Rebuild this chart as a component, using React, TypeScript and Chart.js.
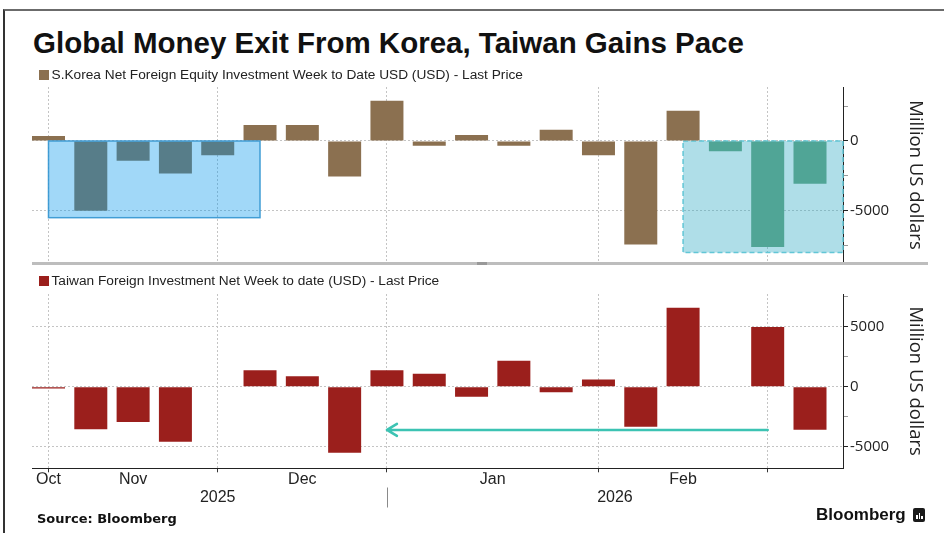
import React, { useEffect, useRef } from 'react';
import { Chart, registerables } from 'chart.js';

Chart.register(...registerables);

// ---------- data ----------
const weeks = [
  '2025-10-31', '2025-11-07', '2025-11-14', '2025-11-21', '2025-11-28',
  '2025-12-05', '2025-12-12', '2025-12-19', '2025-12-26', '2026-01-02',
  '2026-01-09', '2026-01-16', '2026-01-23', '2026-01-30', '2026-02-06',
  '2026-02-13', '2026-02-20', '2026-02-27', '2026-03-06',
];
const koreaValues = [360, -5000, -1420, -2330, -1030, 1150, 1150, -2540, 2880, -340, 430, -340, 810, -1030, -7430, 2160, -740, -7600, -3070];
const taiwanValues = [-140, -3550, -2940, -4580, -50, 1370, 870, -5500, 1370, 1080, -830, 2170, -470, 610, -3330, 6580, null, 4970, -3580];
const koreaTealWeeks = [16, 17, 18];

const gridWeeks = [0, 4, 8, 13, 17];
const monthLabels = ['Oct', 'Nov', 'Dec', 'Jan', 'Feb'];
const monthPositions = [0, 2, 6, 10.5, 15];
const yearLabels = ['2025', '2026'];
const yearPositions = [4, 13.39];
const yearBoundary = 8;
const X_MIN = -0.39;
const X_MAX = 18.78;

const koreaTicks = [-7500, -5000, -2500, 0, 2500];
const koreaRange = [-8750, 3870];
const taiwanTicks = [-5000, -2500, 0, 2500, 5000, 7500];
const taiwanRange = [-6800, 7725];

const koreaBoxes = [
  { from: 15, to: null, top: 0, bottom: -8000, layer: 'before', fill: 'rgba(55,172,197,0.40)', stroke: '#62c6d6', dash: [5, 3] },
  { from: 0, to: 5, top: 0, bottom: -5500, layer: 'after', fill: 'rgba(0,150,235,0.37)', stroke: 'rgba(50,150,210,0.9)', dash: [] },
];
const taiwanArrow = { from: 17, to: 8, y: -3600, color: '#3cc3b3' };

const KOREA_COLOR = '#8b7050';
const KOREA_TEAL = '#50a596';
const TAIWAN_COLOR = '#9b1f1c';

const SANS = '"Liberation Sans", Arial, sans-serif';
const AXIS_FONT = '"Open Sans", "Liberation Sans", sans-serif';

// ---------- helpers ----------
function makeOverlayPlugin(boxes: any[], arrow: any, separatorAt: number | null) {
  const drawBoxes = (chart: any, layer: string) => {
    const xs = chart.scales.x;
    const ys = chart.scales.y;
    const area = chart.chartArea;
    const ctx = chart.ctx;
    for (const b of boxes) {
      if (b.layer !== layer) continue;
      const x0 = xs.getPixelForValue(b.from);
      const x1 = b.to == null ? area.right : xs.getPixelForValue(b.to);
      const y0 = ys.getPixelForValue(b.top);
      const y1 = ys.getPixelForValue(b.bottom);
      ctx.save();
      ctx.fillStyle = b.fill;
      ctx.fillRect(x0, y0, x1 - x0, y1 - y0);
      ctx.setLineDash(b.dash);
      ctx.strokeStyle = b.stroke;
      ctx.lineWidth = 1.5;
      ctx.strokeRect(x0, y0, x1 - x0, y1 - y0);
      ctx.restore();
    }
  };
  return {
    id: 'overlays',
    beforeDatasetsDraw(chart: any) {
      drawBoxes(chart, 'before');
    },
    afterDatasetsDraw(chart: any) {
      drawBoxes(chart, 'after');
      const ctx = chart.ctx;
      if (arrow) {
        const xs = chart.scales.x;
        const ys = chart.scales.y;
        const y = ys.getPixelForValue(arrow.y);
        const xa = xs.getPixelForValue(arrow.from);
        const xb = xs.getPixelForValue(arrow.to);
        ctx.save();
        ctx.strokeStyle = arrow.color;
        ctx.lineWidth = 2.5;
        ctx.lineCap = 'round';
        ctx.lineJoin = 'round';
        ctx.beginPath();
        ctx.moveTo(xa, y);
        ctx.lineTo(xb, y);
        ctx.moveTo(xb + 10, y - 6);
        ctx.lineTo(xb, y);
        ctx.lineTo(xb + 10, y + 6);
        ctx.stroke();
        ctx.restore();
      }
      if (separatorAt != null && chart.scales.xYear) {
        const ys = chart.scales.xYear;
        const x = Math.round(ys.getPixelForValue(separatorAt)) + 0.5;
        ctx.save();
        ctx.strokeStyle = '#8a8a8a';
        ctx.lineWidth = 1;
        ctx.beginPath();
        ctx.moveTo(x, ys.top);
        ctx.lineTo(x, ys.bottom);
        ctx.stroke();
        ctx.restore();
      }
    },
  };
}

function yAxis(ticks: number[], range: number[]) {
  return {
    type: 'linear',
    position: 'right',
    min: range[0],
    max: range[1],
    afterBuildTicks: (s: any) => {
      s.ticks = ticks.map((v) => ({ value: v }));
    },
    afterFit: (s: any) => {
      s.width = 101;
    },
    ticks: {
      autoSkip: false,
      padding: 2,
      color: '#222',
      font: { family: AXIS_FONT, size: 15 },
      callback: (v: number) => (v % 5000 === 0 ? String(v) : ''),
    },
    grid: {
      color: (c: any) => (c.tick && c.tick.value % 5000 === 0 ? '#c4c4c4' : 'rgba(0,0,0,0)'),
      tickColor: (c: any) => (c.tick && c.tick.value % 5000 === 0 ? '#222' : '#999'),
      tickLength: 5,
      lineWidth: 1,
    },
    border: { display: true, color: '#222', width: 1, dash: [2, 2] },
    title: {
      display: true,
      text: 'Million US dollars',
      color: '#222',
      font: { family: AXIS_FONT, size: 18.5 },
      padding: { top: 18, bottom: 0 },
    },
  };
}

function xGrid(showAxis: boolean) {
  return {
    type: 'linear',
    position: 'bottom',
    weight: 0,
    offset: false,
    min: X_MIN,
    max: X_MAX,
    afterBuildTicks: (s: any) => {
      s.ticks = gridWeeks.map((v) => ({ value: v }));
    },
    ticks: { display: false },
    grid: {
      offset: false,
      color: '#c4c4c4',
      lineWidth: 1,
      drawTicks: showAxis,
      tickLength: 4,
      tickColor: '#333',
    },
    border: { display: showAxis, color: '#222', width: 1, dash: [2, 2] },
  };
}

function barChartConfig(values: (number | null)[], colors: string[] | string, label: string, scales: any, plugin: any) {
  return {
    type: 'bar',
    data: {
      datasets: [
        {
          label,
          data: values.map((v, i) => ({ x: i, y: v })),
          backgroundColor: colors,
          borderWidth: 0,
          categoryPercentage: 1,
          barPercentage: 0.78,
        },
      ],
    },
    options: {
      animation: false,
      responsive: false,
      maintainAspectRatio: false,
      layout: { padding: { left: 32, right: 0, top: 14, bottom: 14 } },
      plugins: { legend: { display: false }, tooltip: { enabled: false }, title: { display: false } },
      scales,
    },
    plugins: [plugin],
  };
}

function KoreaChart() {
  const ref = useRef<HTMLCanvasElement | null>(null);
  useEffect(() => {
    if (!ref.current) return;
    const colors = koreaValues.map((_, i) => (koreaTealWeeks.includes(i) ? KOREA_TEAL : KOREA_COLOR));
    const cfg: any = barChartConfig(
      koreaValues,
      colors,
      'S.Korea Net Foreign Equity Investment Week to Date USD (USD) - Last Price',
      { x: xGrid(false), y: yAxis(koreaTicks, koreaRange) },
      makeOverlayPlugin(koreaBoxes, null, null)
    );
    const chart = new Chart(ref.current, cfg);
    return () => chart.destroy();
  }, []);
  return <canvas ref={ref} width={944} height={204} style={{ position: 'absolute', left: 0, top: 73 }} />;
}

function TaiwanChart() {
  const ref = useRef<HTMLCanvasElement | null>(null);
  useEffect(() => {
    if (!ref.current) return;
    const scales = {
      x: xGrid(true),
      xMonth: {
        type: 'linear',
        position: 'bottom',
        weight: 1,
        offset: false,
        min: X_MIN,
        max: X_MAX,
        afterBuildTicks: (s: any) => {
          s.ticks = monthPositions.map((v) => ({ value: v }));
        },
        grid: { display: false, drawTicks: false, offset: false },
        border: { display: false },
        ticks: {
          autoSkip: false,
          maxRotation: 0,
          padding: -2,
          color: '#222',
          font: { family: SANS, size: 16 },
          callback: (_v: number, i: number) => monthLabels[i],
        },
      },
      xYear: {
        type: 'linear',
        position: 'bottom',
        weight: 2,
        offset: false,
        min: X_MIN,
        max: X_MAX,
        afterBuildTicks: (s: any) => {
          s.ticks = yearPositions.map((v) => ({ value: v }));
        },
        grid: { display: false, drawTicks: false, offset: false },
        border: { display: false },
        ticks: {
          autoSkip: false,
          maxRotation: 0,
          padding: 0.4,
          color: '#222',
          font: { family: SANS, size: 16 },
          callback: (_v: number, i: number) => yearLabels[i],
        },
      },
      y: yAxis(taiwanTicks, taiwanRange),
    };
    const cfg: any = barChartConfig(
      taiwanValues,
      TAIWAN_COLOR,
      'Taiwan Foreign Investment Net Week to date (USD) - Last Price',
      scales,
      makeOverlayPlugin([], taiwanArrow, yearBoundary)
    );
    cfg.options.layout.padding.bottom = 25.5;
    const chart = new Chart(ref.current, cfg);
    return () => chart.destroy();
  }, []);
  return <canvas ref={ref} width={944} height={253} style={{ position: 'absolute', left: 0, top: 280 }} />;
}

function LegendItem({ color, text, top }: { color: string; text: string; top: number }) {
  return (
    <>
      <div style={{ position: 'absolute', left: 39, top: top + 3, width: 10, height: 10, background: color }} />
      <div
        style={{
          position: 'absolute',
          left: 51.5,
          top,
          fontFamily: SANS,
          fontSize: 13.7,
          lineHeight: '16px',
          color: '#222',
          whiteSpace: 'nowrap',
          zIndex: 2,
        }}
      >
        {text}
      </div>
    </>
  );
}

export default function App() {
  return (
    <div
      style={{
        position: 'absolute',
        left: 0,
        top: 0,
        width: 944,
        height: 533,
        background: '#fff',
        overflow: 'hidden',
      }}
    >
      <div
        style={{
          position: 'absolute',
          left: 3,
          top: 9,
          width: 960,
          height: 560,
          borderTop: '2px solid #6b6b6b',
          borderLeft: '2px solid #333',
          boxSizing: 'border-box',
        }}
      />
      <div
        style={{
          position: 'absolute',
          left: 33,
          top: 27.6,
          fontFamily: SANS,
          fontWeight: 'bold',
          fontSize: 29.5,
          lineHeight: '30px',
          color: '#111',
          whiteSpace: 'nowrap',
        }}
      >
        Global Money Exit From Korea, Taiwan Gains Pace
      </div>
      <KoreaChart />
      <TaiwanChart />
      <LegendItem
        color={KOREA_COLOR}
        top={67}
        text="S.Korea Net Foreign Equity Investment Week to Date USD (USD) - Last Price"
      />
      <LegendItem
        color={TAIWAN_COLOR}
        top={273}
        text="Taiwan Foreign Investment Net Week to date (USD) - Last Price"
      />
      <div style={{ position: 'absolute', left: 32, top: 262, width: 896, height: 3, background: '#bdbdbd' }} />
      <div style={{ position: 'absolute', left: 477, top: 262, width: 10, height: 3, background: '#999' }} />
      <div
        style={{
          position: 'absolute',
          left: 37,
          top: 512,
          fontFamily: '"DejaVu Sans", sans-serif',
          fontWeight: 'bold',
          fontSize: 13,
          lineHeight: '13px',
          color: '#111',
          whiteSpace: 'nowrap',
        }}
      >
        Source: Bloomberg
      </div>
      <div
        style={{
          position: 'absolute',
          left: 816,
          top: 506,
          fontFamily: SANS,
          fontWeight: 'bold',
          fontSize: 17,
          lineHeight: '17px',
          color: '#111',
          whiteSpace: 'nowrap',
        }}
      >
        Bloomberg
      </div>
      <div
        style={{
          position: 'absolute',
          left: 913,
          top: 508,
          width: 12,
          height: 14,
          background: '#1a1a1a',
          borderRadius: 2,
        }}
      >
        <div style={{ position: 'absolute', left: 3, top: 7, width: 1.5, height: 4, background: '#fff' }} />
        <div style={{ position: 'absolute', left: 5.5, top: 5, width: 1.5, height: 6, background: '#fff' }} />
        <div style={{ position: 'absolute', left: 8, top: 8, width: 1.5, height: 3, background: '#fff' }} />
      </div>
    </div>
  );
}
